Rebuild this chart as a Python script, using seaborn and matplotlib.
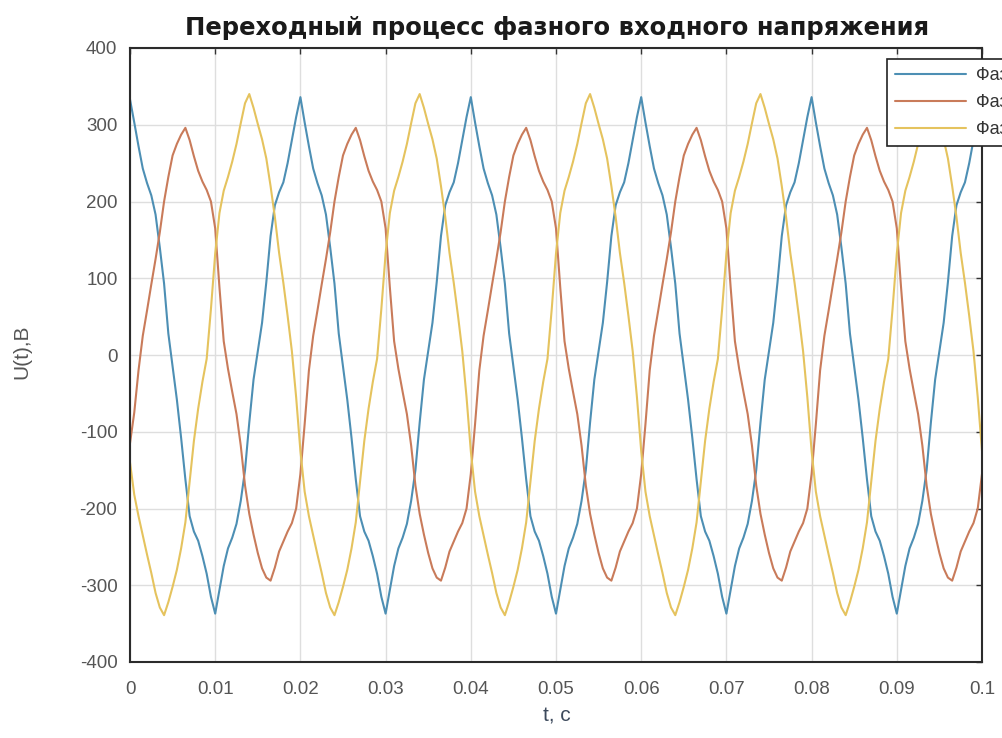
import numpy as np
import pandas as pd
import matplotlib
matplotlib.use("Agg")
import matplotlib.pyplot as plt
import seaborn as sns

# sample instants, s (0.5 ms step)
time_s = np.round(np.arange(0, 201) * 0.0005, 4)

# Phase A (blue), V
phase_a = [
    333, 303, 272, 243, 224, 208, 183, 140, 93, 28, -15, -58, -108, -162, -210, -230, -242, -262, -285, -315,
    -337, -306, -275, -252, -238, -220, -190, -150, -88, -32, 5, 42, 95, 155, 195, 212, 225, 250, 280, 310,
    336, 303, 272, 243, 224, 208, 183, 140, 93, 28, -15, -58, -108, -162, -210, -230, -242, -262, -285, -315,
    -337, -306, -275, -252, -238, -220, -190, -150, -88, -32, 5, 42, 95, 155, 195, 212, 225, 250, 280, 310,
    336, 303, 272, 243, 224, 208, 183, 140, 93, 28, -15, -58, -108, -162, -210, -230, -242, -262, -285, -315,
    -337, -306, -275, -252, -238, -220, -190, -150, -88, -32, 5, 42, 95, 155, 195, 212, 225, 250, 280, 310,
    336, 303, 272, 243, 224, 208, 183, 140, 93, 28, -15, -58, -108, -162, -210, -230, -242, -262, -285, -315,
    -337, -306, -275, -252, -238, -220, -190, -150, -88, -32, 5, 42, 95, 155, 195, 212, 225, 250, 280, 310,
    336, 303, 272, 243, 224, 208, 183, 140, 93, 28, -15, -58, -108, -162, -210, -230, -242, -262, -285, -315,
    -337, -306, -275, -252, -238, -220, -190, -150, -88, -32, 5, 42, 95, 155, 195, 212, 225, 250, 280, 310,
    336,
]

# Phase B (orange), V
phase_b = [
    -115, -75, -20, 25, 58, 92, 125, 160, 200, 232, 260, 275, 287, 296, 280, 259, 240, 226, 215, 200,
    165, 88, 18, -18, -48, -77, -118, -170, -207, -234, -258, -278, -290, -294, -277, -256, -243, -230, -219, -200,
    -155, -90, -20, 25, 58, 92, 125, 160, 200, 232, 260, 275, 287, 296, 280, 259, 240, 226, 215, 200,
    165, 88, 18, -18, -48, -77, -118, -170, -207, -234, -258, -278, -290, -294, -277, -256, -243, -230, -219, -200,
    -155, -90, -20, 25, 58, 92, 125, 160, 200, 232, 260, 275, 287, 296, 280, 259, 240, 226, 215, 200,
    165, 88, 18, -18, -48, -77, -118, -170, -207, -234, -258, -278, -290, -294, -277, -256, -243, -230, -219, -200,
    -155, -90, -20, 25, 58, 92, 125, 160, 200, 232, 260, 275, 287, 296, 280, 259, 240, 226, 215, 200,
    165, 88, 18, -18, -48, -77, -118, -170, -207, -234, -258, -278, -290, -294, -277, -256, -243, -230, -219, -200,
    -155, -90, -20, 25, 58, 92, 125, 160, 200, 232, 260, 275, 287, 296, 280, 259, 240, 226, 215, 200,
    165, 88, 18, -18, -48, -77, -118, -170, -207, -234, -258, -278, -290, -294, -277, -256, -243, -230, -219, -200,
    -155,
]

# Phase C (yellow), V
phase_c = [
    -140, -182, -210, -235, -260, -284, -310, -329, -339, -322, -302, -280, -252, -218, -165, -112, -70, -35, -5, 60,
    132, 185, 214, 232, 252, 275, 302, 328, 340, 322, 301, 281, 256, 220, 180, 133, 94, 51, 5, -55,
    -125, -178, -210, -235, -260, -284, -310, -329, -339, -322, -302, -280, -252, -218, -165, -112, -70, -35, -5, 60,
    132, 185, 214, 232, 252, 275, 302, 328, 340, 322, 301, 281, 256, 220, 180, 133, 94, 51, 5, -55,
    -125, -178, -210, -235, -260, -284, -310, -329, -339, -322, -302, -280, -252, -218, -165, -112, -70, -35, -5, 60,
    132, 185, 214, 232, 252, 275, 302, 328, 340, 322, 301, 281, 256, 220, 180, 133, 94, 51, 5, -55,
    -125, -178, -210, -235, -260, -284, -310, -329, -339, -322, -302, -280, -252, -218, -165, -112, -70, -35, -5, 60,
    132, 185, 214, 232, 252, 275, 302, 328, 340, 322, 301, 281, 256, 220, 180, 133, 94, 51, 5, -55,
    -125, -178, -210, -235, -260, -284, -310, -329, -339, -322, -302, -280, -252, -218, -165, -112, -70, -35, -5, 60,
    132, 185, 214, 232, 252, 275, 302, 328, 340, 322, 301, 281, 256, 220, 180, 133, 94, 51, 5, -55,
    -125,
]

series_names = ["Фаза A", "Фаза B", "Фаза C"]
series_colors = ["#4d8fb4", "#c97b5a", "#e5c35e"]
x_ticks = [0, 0.01, 0.02, 0.03, 0.04, 0.05, 0.06, 0.07, 0.08, 0.09, 0.1]
x_tick_labels = ["0", "0.01", "0.02", "0.03", "0.04", "0.05", "0.06", "0.07", "0.08", "0.09", "0.1"]
y_ticks = [-400, -300, -200, -100, 0, 100, 200, 300, 400]
y_tick_labels = ["-400", "-300", "-200", "-100", "0", "100", "200", "300", "400"]
title_text = "Переходный процесс фазного входного напряжения"
x_label = "t, c"
y_label = "U(t),B"

df = pd.concat([
    pd.DataFrame({"t": time_s, "U": vals, "phase": name})
    for name, vals in zip(series_names, [phase_a, phase_b, phase_c])
], ignore_index=True)

sns.set_style("white")
plt.rcParams["font.family"] = ["Liberation Sans", "DejaVu Sans"]

W, H = 1002, 738
fig = plt.figure(figsize=(W / 100, H / 100), dpi=100)
fig.patch.set_facecolor("white")
ax = fig.add_axes([130 / W, 1 - 662 / H, (982 - 130) / W, (662 - 48) / H])

sns.lineplot(data=df, x="t", y="U", hue="phase", hue_order=series_names,
             palette=series_colors, estimator=None, sort=False,
             linewidth=1.5, ax=ax)

ax.set_xlim(0, 0.1)
ax.set_ylim(-400, 400)
ax.set_xticks(x_ticks)
ax.set_xticklabels(x_tick_labels)
ax.set_yticks(y_ticks)
ax.set_yticklabels(y_tick_labels)
ax.set_xlabel("")
ax.set_ylabel("")
ax.grid(True, color="#dedede", linewidth=1.0)
ax.set_axisbelow(True)
ax.tick_params(axis="both", direction="in", length=4, width=1, color="#333333",
               top=True, right=True, labelsize=13.5, labelcolor="#555555")
ax.tick_params(axis="x", pad=14)
ax.tick_params(axis="y", pad=9)
for s in ax.spines.values():
    s.set_color("#2b2b2b")
    s.set_linewidth(1.5)

fig.text(557 / W, 1 - 28 / H, title_text, ha="center", va="center",
         fontsize=17.5, fontweight="bold", color="#1a1a1a", family=["DejaVu Sans"])
fig.text(22 / W, 1 - 352 / H, y_label, ha="center", va="center", rotation=90,
         fontsize=15, color="#555555")
fig.text(557 / W, 1 - 716 / H, x_label, ha="center", va="center",
         fontsize=15, color="#3d4a5c")

handles, labels = ax.get_legend_handles_labels()
if ax.legend_ is not None:
    ax.legend_.remove()
leg = fig.legend(handles, labels, loc="upper left",
                 bbox_to_anchor=(878 / W, 1 - 50 / H), bbox_transform=fig.transFigure,
                 fontsize=13, handlelength=3.9, handletextpad=0.6, labelspacing=0.55,
                 borderpad=0.45, frameon=True, fancybox=False, framealpha=1,
                 edgecolor="#222222")
leg.get_frame().set_linewidth(1.2)
for t in leg.get_texts():
    t.set_color("#333333")

fig.savefig("out.png", dpi=100, facecolor="white")
